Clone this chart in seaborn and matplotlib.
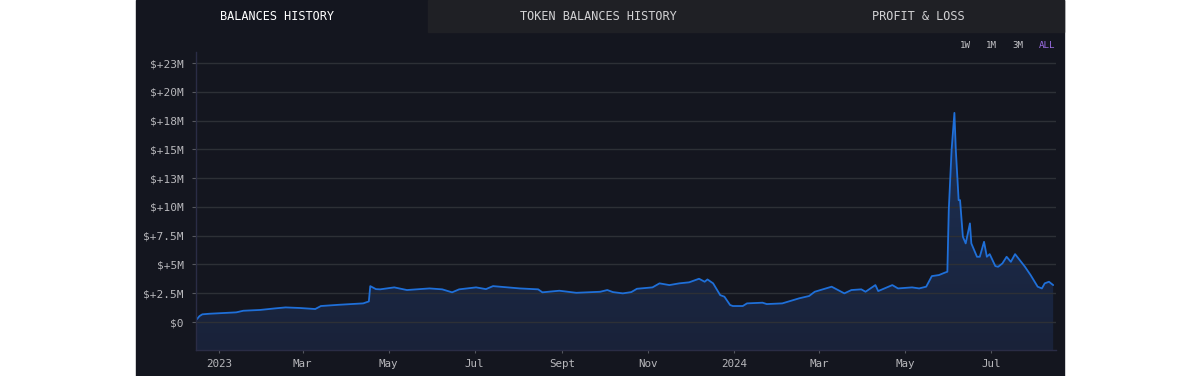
import matplotlib
matplotlib.use("Agg")
import matplotlib.pyplot as plt
import matplotlib.dates as mdates
from matplotlib.colors import LinearSegmentedColormap
import seaborn as sns
import numpy as np
import pandas as pd

# Balance history, values in millions of dollars
dates = [
    "2022-12-16", "2022-12-18", "2022-12-20", "2022-12-25", "2023-01-13", "2023-01-18", "2023-01-30",
    "2023-02-10", "2023-02-17", "2023-02-27", "2023-03-10", "2023-03-14", "2023-03-27",
    "2023-04-13", "2023-04-17", "2023-04-18", "2023-04-22", "2023-04-25", "2023-05-05",
    "2023-05-14", "2023-05-30", "2023-06-08", "2023-06-15", "2023-06-20", "2023-07-02",
    "2023-07-09", "2023-07-14", "2023-08-02", "2023-08-15", "2023-08-18", "2023-08-30",
    "2023-09-11", "2023-09-28", "2023-10-03", "2023-10-07", "2023-10-14", "2023-10-20",
    "2023-10-24", "2023-11-04", "2023-11-09", "2023-11-16", "2023-11-23", "2023-11-30",
    "2023-12-07", "2023-12-11", "2023-12-13", "2023-12-17", "2023-12-22", "2023-12-25",
    "2023-12-29", "2023-12-31", "2024-01-07", "2024-01-10", "2024-01-21", "2024-01-24",
    "2024-02-04", "2024-02-16", "2024-02-23", "2024-02-27", "2024-03-10", "2024-03-19",
    "2024-03-24", "2024-03-31", "2024-04-03", "2024-04-10", "2024-04-12", "2024-04-22",
    "2024-04-26", "2024-05-06", "2024-05-11", "2024-05-16", "2024-05-20", "2024-05-25",
    "2024-05-29", "2024-05-31", "2024-06-01", "2024-06-03", "2024-06-05", "2024-06-06",
    "2024-06-08", "2024-06-09", "2024-06-11", "2024-06-13", "2024-06-16", "2024-06-17",
    "2024-06-21", "2024-06-23", "2024-06-26", "2024-06-28", "2024-06-30", "2024-07-04",
    "2024-07-06", "2024-07-09", "2024-07-12", "2024-07-15", "2024-07-18", "2024-07-25",
    "2024-07-29", "2024-08-03", "2024-08-06", "2024-08-08", "2024-08-11", "2024-08-14",
]
balances_m = [
    0.23, 0.52, 0.67, 0.72, 0.84, 0.98, 1.05,
    1.19, 1.27, 1.22, 1.13, 1.39, 1.50,
    1.62, 1.79, 3.12, 2.86, 2.84, 3.01,
    2.78, 2.92, 2.84, 2.58, 2.84, 3.01,
    2.86, 3.12, 2.92, 2.84, 2.58, 2.72,
    2.54, 2.63, 2.78, 2.60, 2.49, 2.60,
    2.89, 3.01, 3.36, 3.21, 3.36, 3.45,
    3.76, 3.50, 3.70, 3.36, 2.34, 2.20,
    1.48, 1.39, 1.39, 1.62, 1.68, 1.56,
    1.62, 2.06, 2.26, 2.63, 3.07, 2.49,
    2.78, 2.84, 2.63, 3.21, 2.69, 3.21,
    2.92, 3.01, 2.92, 3.07, 3.99, 4.08,
    4.28, 4.37, 9.72, 14.93, 18.17, 14.93,
    10.59, 10.59, 7.41, 6.83, 8.57, 6.83,
    5.67, 5.67, 6.97, 5.67, 5.90, 4.86,
    4.80, 5.09, 5.67, 5.23, 5.90, 4.80,
    4.08, 3.07, 2.92, 3.36, 3.50, 3.21,
]

y_ticks_m = [0, 2.5, 5, 7.5, 10, 12.5, 15, 17.5, 20, 22.5]
y_tick_labels = ["$0", "$+2.5M", "$+5M", "$+7.5M", "$+10M", "$+13M",
                 "$+15M", "$+18M", "$+20M", "$+23M"]
x_tick_dates = ["2023-01-01", "2023-03-01", "2023-05-01", "2023-07-01", "2023-09-01",
                "2023-11-01", "2024-01-01", "2024-03-01", "2024-05-01", "2024-07-01"]
x_tick_labels = ["2023", "Mar", "May", "Jul", "Sept", "Nov", "2024", "Mar", "May", "Jul"]
tabs = ["BALANCES HISTORY", "TOKEN BALANCES HISTORY", "PROFIT & LOSS"]
ranges = ["1W", "1M", "3M", "ALL"]

PANEL = "#14161f"
TAB_OFF = "#1f2025"
LINE = "#1f6fd8"
GRID = "#2d3036"
SPINE = "#2a2c45"
TICK_TXT = "#b8b8bc"

df = pd.DataFrame({"date": pd.to_datetime(dates),
                   "balance": np.array(balances_m) * 1e6})

sns.set_theme(style="dark")
plt.rcParams['font.family'] = ['DejaVu Sans Mono', 'DejaVu Sans']

W, H = 1200, 376
fig = plt.figure(figsize=(W / 100, H / 100), dpi=100)
fig.patch.set_facecolor("white")

# dark card and tab bar
fig.add_artist(plt.Rectangle((136 / W, 0), 928 / W, 1, transform=fig.transFigure,
                             color=PANEL, zorder=0))
fig.add_artist(plt.Rectangle((428 / W, 1 - 32 / H), 636 / W, 32 / H,
                             transform=fig.transFigure, color=TAB_OFF, zorder=0))
for label, cx, col in zip(tabs, [277, 598, 918], ["#ffffff", "#d2d2d4", "#d2d2d4"]):
    fig.text(cx / W, 1 - 16 / H, label, ha="center", va="center",
             fontsize=8.6, color=col)
for label, cx in zip(ranges, [965, 991, 1018, 1047]):
    fig.text(cx / W, 1 - 45 / H, label, ha="center", va="center", fontsize=6.6,
             color="#9d6ee6" if label == "ALL" else "#c4c4c8")

ax = fig.add_axes([196 / W, 1 - 350 / H, 860 / W, 298 / H])
ax.set_facecolor(PANEL)

ymin, ymax = -2.43e6, 23.46e6
xlo, xhi = pd.Timestamp("2022-12-15 12:00"), pd.Timestamp("2024-08-16")

# gradient area under the line, kept below the grid
xnum = mdates.date2num(df["date"])
poly = ax.fill_between(df["date"], df["balance"], ymin, color="none", lw=0)
cmap = LinearSegmentedColormap.from_list("fill", ["#192239", "#1d3157"])
grad = ax.imshow(np.linspace(0, 1, 256).reshape(-1, 1), cmap=cmap, aspect="auto",
                 origin="lower", extent=[xnum[0], xnum[-1], ymin, 19e6], zorder=0.3)
grad.set_clip_path(poly.get_paths()[0], transform=ax.transData)
ax.set_xlim(xlo, xhi)
ax.set_ylim(ymin, ymax)

sns.lineplot(data=df, x="date", y="balance", ax=ax, color=LINE, linewidth=1.3, zorder=3)

ax.set_yticks([v * 1e6 for v in y_ticks_m])
ax.set_yticklabels(y_tick_labels)
ax.set_xticks(pd.to_datetime(x_tick_dates))
ax.set_xticklabels(x_tick_labels)
ax.set_xlabel("")
ax.set_ylabel("")
ax.set_xlim(xlo, xhi)
ax.set_ylim(ymin, ymax)

ax.set_axisbelow(True)
ax.grid(axis="y", color=GRID, linewidth=1, zorder=0.5)
ax.grid(axis="x", visible=False)
for side in ["top", "right"]:
    ax.spines[side].set_visible(False)
for side in ["left", "bottom"]:
    ax.spines[side].set_visible(True)
    ax.spines[side].set_color(SPINE)
    ax.spines[side].set_linewidth(1)
    ax.spines[side].set_zorder(4)

ax.tick_params(axis="y", colors=TICK_TXT, labelsize=8, length=3, width=0.8,
               color="#55575e", pad=6, left=True)
ax.tick_params(axis="x", colors=TICK_TXT, labelsize=7.8, length=2.5, width=0.8,
               color="#55575e", pad=4, bottom=True)

fig.savefig("out.png", dpi=100, facecolor=fig.get_facecolor())
